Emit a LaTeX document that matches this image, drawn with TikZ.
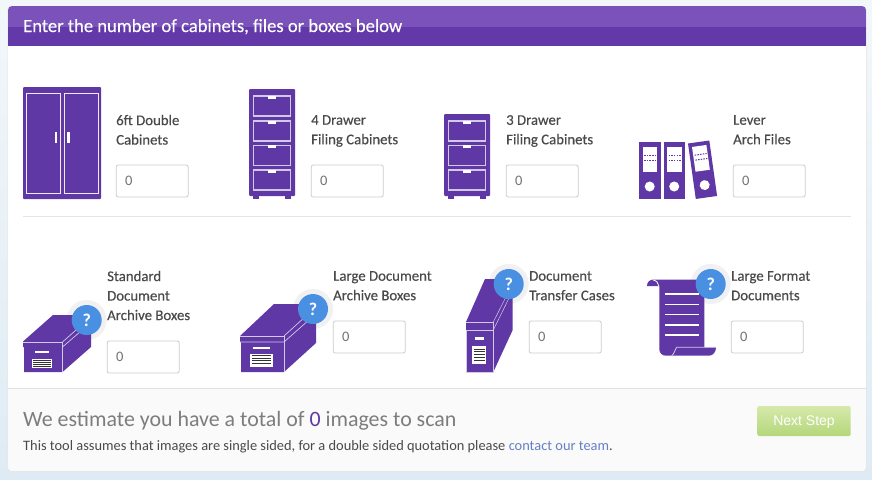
\documentclass[tikz,border=0pt]{standalone}
\usepackage{fontspec}
\setmainfont{Carlito}
\newfontfamily\medfont[FakeBold=0.3]{Carlito}
\newfontfamily\btnfont{Liberation Sans}
\definecolor{purp}{HTML}{5F38A6}
\definecolor{purplite}{HTML}{7A52B9}
\definecolor{purphdr}{HTML}{6338A8}
\definecolor{edgelite}{HTML}{D2C8E8}
\definecolor{qblue}{HTML}{4A90E2}
\definecolor{halo}{HTML}{F1F1F3}
\definecolor{inktext}{HTML}{4A4A4A}
\definecolor{greytext}{HTML}{7D7D7D}
\definecolor{linkblue}{HTML}{6480C4}
\definecolor{pagetop}{HTML}{F2F7FA}
\definecolor{pagebot}{HTML}{DFEBF4}
\definecolor{btntop}{HTML}{D6E9AA}
\definecolor{btnbot}{HTML}{B3D77A}
\begin{document}
\begin{tikzpicture}[
    x=1pt, y=-1pt,
    lbl/.style={anchor=west, align=left, inner sep=0pt, text=inktext,
        font=\fontsize{14.8}{19.5}\selectfont\medfont,
        execute at begin node=\vphantom{A}, execute at end node=\vphantom{g}},
    inbox/.style={draw=black!20, fill=white, rounded corners=2pt, line width=0.8pt,
        minimum height=32pt, text width=54pt, inner xsep=9pt, inner ysep=0pt, align=left,
        text=black!55, font=\fontsize{14.5}{18}\selectfont},
    badge/.style={circle, fill=qblue, minimum size=30pt,
        inner sep=0pt, text=white, font=\fontsize{18}{18}\selectfont\bfseries},
    halodisc/.style={circle, fill=halo, minimum size=40pt, inner sep=0pt},
    solid part/.style={fill=purp},
    doorline/.style={draw=white, line width=1pt, opacity=0.9},
    drawerbox/.style={draw=edgelite, line width=1.3pt},
    whitebit/.style={fill=white}
]
    % page and panel
    \shade[top color=pagetop, bottom color=pagebot] (0,0) rectangle (872,479);
    \fill[black!10, rounded corners=4pt] (7.5,6) rectangle (866.5,471.5);
    \begin{scope}
        \clip[rounded corners=4pt] (8,6) rectangle (866,471);
        \fill[white] (8,6) rectangle (866,471);
        \fill[purplite] (8,6) rectangle (866,27);
        \fill[purphdr] (8,27) rectangle (866,46);
        \fill[black!2] (8,388) rectangle (866,471);
        \draw[black!12] (8,388.5) -- (866,388.5);
    \end{scope}
    \node[anchor=base west, inner sep=0pt, text=white, font=\fontsize{18.6}{24}\selectfont\medfont] (title) at (23,32) {Enter the number of cabinets, files or boxes below};
    \draw[black!10] (23,216.5) -- (851,216.5);

    % halos go behind the icons
    \node[halodisc] (ha) at (86.7,320) {};
    \node[halodisc] (hb) at (313,309) {};
    \node[halodisc] (hc) at (508.7,284) {};
    \node[halodisc] (hd) at (710.7,284) {};

    % double cabinet
    \fill[solid part, rounded corners=1pt] (23,87) rectangle (101,199);
    \draw[doorline] (26.5,93) rectangle (60,193);
    \draw[doorline] (64.5,93) rectangle (98,193);
    \fill[whitebit] (54.7,131.7) rectangle (57.3,143.3);
    \fill[whitebit] (67.3,131.7) rectangle (69.7,143.3);

    % four drawers
    \fill[solid part, rounded corners=1pt] (249,89) rectangle (295,196);
    \fill[solid part] (253,196) rectangle (259,199);
    \fill[solid part] (285,196) rectangle (291,199);
    \foreach \y in {96,121,145.5,170} {
        \draw[drawerbox] (253.5,\y) rectangle (290.5,\y+20);
        \fill[whitebit] (268.3,\y-0.5) rectangle (276,\y+2.5);
    }

    % three drawers
    \fill[solid part, rounded corners=1pt] (444,114) rectangle (490,196);
    \fill[solid part] (448,196) rectangle (454,199);
    \fill[solid part] (480,196) rectangle (486,199);
    \foreach \y in {121,145.5,170} {
        \draw[drawerbox] (448.5,\y) rectangle (485.5,\y+20);
        \fill[whitebit] (463.3,\y-0.5) rectangle (471,\y+2.5);
    }

    % lever arch files
    \foreach \x in {639,663.5} {
        \fill[solid part] (\x,142) rectangle (\x+21.5,199);
        \fill[whitebit] (\x+3.5,146.5) rectangle (\x+18,172);
        \fill[whitebit] (\x+10.7,186.5) circle (5pt);
        \draw[purp, line width=1pt, dash pattern=on 1.5pt off 1.2pt] (\x+5,155.5) -- (\x+17,155.5);
        \draw[purp, line width=1pt, dash pattern=on 1.5pt off 1.2pt] (\x+5,160.5) -- (\x+17,160.5);
    }
    \begin{scope}[shift={(688,143.5)}, rotate=8]
        \fill[solid part] (0,0) rectangle (21.5,56);
        \fill[whitebit] (3.5,4) rectangle (18,29);
        \fill[whitebit] (10.7,43.5) circle (5pt);
        \draw[purp, line width=1pt, dash pattern=on 1.5pt off 1.2pt] (5,12.5) -- (17,12.5);
        \draw[purp, line width=1pt, dash pattern=on 1.5pt off 1.2pt] (5,17.5) -- (17,17.5);
    \end{scope}

    % standard box
    \fill[solid part] (23,341.5) -- (53,315) -- (91,315) -- (91,347) -- (62.5,372) -- (24,372) -- (24,347) -- (23,347) -- cycle;
    \draw[edgelite, line width=0.7pt] (23,342) -- (62.5,342) -- (62.5,372);
    \draw[edgelite, line width=0.7pt] (62.5,342) -- (84,323);
    \draw[edgelite, line width=0.7pt] (62.5,347) -- (88,325);
    \fill[whitebit] (35,350.5) rectangle (49,352.5);
    \fill[whitebit] (31.5,358.5) rectangle (52,367.5);
    \foreach \y in {360.5,362.5,364.5,366} \draw[black!80, line width=0.6pt] (33,\y) -- (50.5,\y);

    % large box
    \fill[solid part] (240,336) -- (274,304) -- (316,304) -- (316,343) -- (284,372) -- (241,372) -- (241,342) -- (240,342) -- cycle;
    \draw[edgelite, line width=0.7pt] (240,336) -- (284,336) -- (284,372);
    \draw[edgelite, line width=0.7pt] (240,342) -- (284,342) -- (310,319);
    \draw[edgelite, line width=0.7pt] (284,336) -- (306,316);
    \fill[whitebit] (252.5,346.8) rectangle (270,349);
    \fill[whitebit] (250,353.5) rectangle (272.5,366.5);
    \foreach \y in {355.5,358,360.5,363} \draw[black!80, line width=0.7pt] (252,\y) -- (270.5,\y);

    % transfer case
    \fill[solid part] (466,322) -- (485,279) -- (512.7,279) -- (512.7,330) -- (493.3,372) -- (466,372) -- cycle;
    \draw[edgelite, line width=0.7pt] (466,322) -- (493.3,322) -- (493.3,372) -- (466,372) -- (466,330) -- (493.3,330);
    \draw[edgelite, line width=0.5pt] (493.3,322) -- (508,293);
    \draw[edgelite, line width=0.5pt] (493.3,330) -- (511,294);
    \fill[whitebit] (474.5,336.7) rectangle (484,340);
    \fill[whitebit] (472.3,346) rectangle (486,364.3);
    \foreach \y in {349,351.7,354.4,357.1,360.5} \draw[black!80, line width=0.7pt] (473.5,\y) -- (485,\y);

    % scroll
    \fill[solid part] (647,286) .. controls (647,281.5) and (650,279.5) .. (654,279.5) -- (704.3,279.5) -- (704.3,347.3) -- (716,347.3) .. controls (716,352) and (713,355.7) .. (709,355.7) -- (666,355.7) .. controls (662,355.7) and (659.3,353) .. (659.3,349) -- (659.3,286) -- cycle;
    \draw[white, line width=0.8pt] (653,280) .. controls (656.5,280.5) and (658.5,283) .. (658.8,286);
    \draw[edgelite, line width=0.8pt] (671.7,355.7) .. controls (674,354) and (675,350) .. (676.5,347.3) -- (716,347.3);
    \foreach \y in {294,304.3,314.7,325,335} \draw[white, line width=1.3pt] (665,\y) -- (699,\y);

    % badges
    \node[badge] (qa) at (86.7,320) {?};
    \node[badge] (qb) at (313,309) {?};
    \node[badge] (qc) at (508.7,284) {?};
    \node[badge] (qd) at (710.7,284) {?};

    % labels
    \node[lbl] (la) at (116,131) {6ft Double\\Cabinets};
    \node[lbl] (lb) at (311,131) {4 Drawer\\Filing Cabinets};
    \node[lbl] (lc) at (506,131) {3 Drawer\\Filing Cabinets};
    \node[lbl] (ld) at (733,131) {Lever\\Arch Files};
    \node[lbl] (le) at (107,296.7) {Standard\\Document\\Archive Boxes};
    \node[lbl] (lf) at (333,287) {Large Document\\Archive Boxes};
    \node[lbl] (lg) at (529,287) {Document\\Transfer Cases};
    \node[lbl] (lh) at (731,287) {Large Format\\Documents};

    % inputs
    \node[inbox] (ina) at (152.2,181) {0};
    \node[inbox] (inb) at (347.2,181) {0};
    \node[inbox] (inc) at (542.2,181) {0};
    \node[inbox] (ind) at (769.2,181) {0};
    \node[inbox] (ine) at (143.2,357) {0};
    \node[inbox] (inf) at (369.2,337) {0};
    \node[inbox] (ing) at (565.2,337) {0};
    \node[inbox] (inh) at (767.2,337) {0};

    % footer
    \node[anchor=base west, inner sep=0pt, text=greytext, font=\fontsize{21.9}{26}\selectfont] (total) at (23,426) {We estimate you have a total of \textcolor{purp}{0} images to scan};
    \node[anchor=base west, inner sep=0pt, text=inktext, font=\fontsize{14.4}{18}\selectfont] (note) at (23,450) {This tool assumes that images are single sided, for a double sided quotation please \textcolor{linkblue}{contact our team}.};
    \shade[top color=btntop, bottom color=btnbot, rounded corners=2pt] (757.3,406) rectangle (850.7,436);
    \node[inner sep=0pt, text=white, font=\fontsize{14}{16}\selectfont\btnfont] (next) at (804,422) {Next Step};
\end{tikzpicture}
\end{document}
